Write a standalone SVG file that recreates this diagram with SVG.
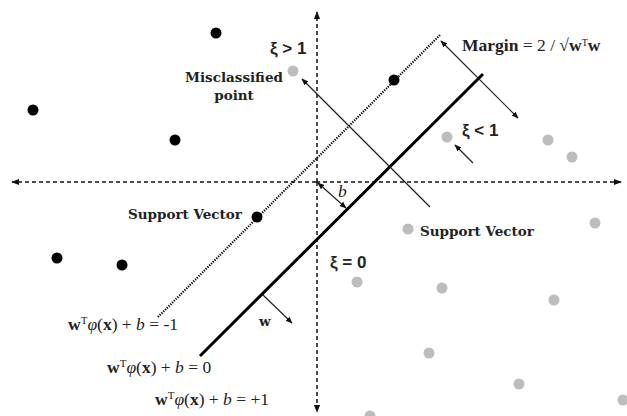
<svg xmlns="http://www.w3.org/2000/svg" width="627" height="416" viewBox="0 0 627 416">
<defs>
<marker id="ah" viewBox="0 0 10 10" refX="9" refY="5" markerWidth="7" markerHeight="7" orient="auto-start-reverse" markerUnits="userSpaceOnUse">
<path d="M0,1 L10,5 L0,9 z" fill="#111"/>
</marker>
<marker id="axh" viewBox="0 0 10 10" refX="9" refY="5" markerWidth="8" markerHeight="8" orient="auto" markerUnits="userSpaceOnUse">
<path d="M0,1 L10,5 L0,9 z" fill="#111"/>
</marker>
</defs>
<style>
.axis{stroke:#111;stroke-width:1.5;stroke-dasharray:4 3;fill:none}
.thin{stroke:#222;stroke-width:1.2;fill:none}
.blk{fill:#000}
.gry{fill:#bdbdbd}
.lbl{font-family:"DejaVu Serif","Liberation Serif",serif;font-weight:bold;font-size:13.5px;fill:#222}
.eq{font-family:"Liberation Serif","DejaVu Serif",serif;font-size:17.5px;fill:#222}
.xi{font-family:"Liberation Sans","DejaVu Sans",sans-serif;font-weight:bold;font-size:17px;fill:#222}
</style>
<rect width="627" height="416" fill="#fff"/>
<g id="connectors">
<line class="axis" x1="316" y1="182" x2="12" y2="182" marker-end="url(#axh)"/>
<line class="axis" x1="316" y1="182" x2="621" y2="182" marker-end="url(#axh)"/>
<line class="axis" x1="317" y1="182" x2="317" y2="12" marker-end="url(#axh)"/>
<line class="axis" x1="317" y1="182" x2="317" y2="412" marker-end="url(#axh)"/>
<line id="hyperplane" x1="200" y1="356" x2="483" y2="74" stroke="#000" stroke-width="3"/>
<line id="margin-minus" x1="158" y1="317" x2="440" y2="35" stroke="#111" stroke-width="2.2" stroke-dasharray="1.3 1.2"/>
<line class="thin" x1="441" y1="41" x2="518" y2="118" marker-start="url(#ah)" marker-end="url(#ah)"/>
<line class="thin" x1="430" y1="207" x2="302" y2="79" marker-end="url(#ah)"/>
<line class="thin" x1="473" y1="163" x2="455" y2="145" marker-end="url(#ah)"/>
<line class="thin" x1="318" y1="183" x2="346" y2="208" marker-start="url(#ah)" marker-end="url(#ah)"/>
<line class="thin" x1="263" y1="295" x2="292" y2="323" marker-end="url(#ah)"/>
</g>
<g id="black-points">
<circle class="blk" cx="216" cy="33" r="5.5"/>
<circle class="blk" cx="33" cy="110" r="5.5"/>
<circle class="blk" cx="175" cy="140" r="5.5"/>
<circle class="blk" cx="394" cy="80" r="5.5"/>
<circle class="blk" cx="257" cy="217" r="5.5"/>
<circle class="blk" cx="57" cy="258" r="5.5"/>
<circle class="blk" cx="122" cy="265" r="5.5"/>
</g>
<g id="gray-points">
<circle class="gry" cx="293" cy="71" r="5.5"/>
<circle class="gry" cx="447" cy="137" r="5.5"/>
<circle class="gry" cx="548" cy="140" r="5.5"/>
<circle class="gry" cx="572" cy="157" r="5.5"/>
<circle class="gry" cx="595" cy="223" r="5.5"/>
<circle class="gry" cx="408" cy="229" r="5.5"/>
<circle class="gry" cx="357" cy="282" r="5.5"/>
<circle class="gry" cx="442" cy="288" r="5.5"/>
<circle class="gry" cx="554" cy="300" r="5.5"/>
<circle class="gry" cx="429" cy="353" r="5.5"/>
<circle class="gry" cx="519" cy="384" r="5.5"/>
<circle class="gry" cx="623" cy="400" r="5.5"/>
<circle class="gry" cx="370" cy="416" r="5.5"/>
</g>
<g id="label-xi-gt1"><text class="xi" x="270" y="54">ξ &gt; 1</text></g>
<g id="label-misclassified">
<text class="lbl" x="234" y="82" text-anchor="middle">Misclassified</text>
<text class="lbl" x="234" y="100" text-anchor="middle">point</text>
</g>
<g id="label-margin"><text class="eq" x="462" y="51" font-size="16.5"><tspan font-weight="bold">Margin</tspan> = 2 / √<tspan font-weight="bold">w</tspan><tspan font-size="10" dy="-5">T</tspan><tspan font-weight="bold" dy="5">w</tspan></text></g>
<g id="label-xi-lt1"><text class="xi" x="462" y="136">ξ &lt; 1</text></g>
<g id="label-sv-left"><text class="lbl" x="128" y="219">Support Vector</text></g>
<g id="label-sv-right"><text class="lbl" x="420" y="236">Support Vector</text></g>
<g id="label-xi-0"><text class="xi" x="330" y="268">ξ = 0</text></g>
<g id="label-b"><text class="eq" x="338" y="197" font-size="15" font-style="italic">b</text></g>
<g id="label-w"><text class="lbl" x="259" y="326">w</text></g>
<g id="eq-minus1"><text class="eq" x="68" y="330"><tspan font-weight="bold">w</tspan><tspan font-size="11" dy="-6">T</tspan><tspan font-style="italic" dy="6">φ</tspan>(<tspan font-weight="bold">x</tspan>) + <tspan font-style="italic">b</tspan> = -1</text></g>
<g id="eq-zero"><text class="eq" x="107" y="373"><tspan font-weight="bold">w</tspan><tspan font-size="11" dy="-6">T</tspan><tspan font-style="italic" dy="6">φ</tspan>(<tspan font-weight="bold">x</tspan>) + <tspan font-style="italic">b</tspan> = 0</text></g>
<g id="eq-plus1"><text class="eq" x="155" y="405"><tspan font-weight="bold">w</tspan><tspan font-size="11" dy="-6">T</tspan><tspan font-style="italic" dy="6">φ</tspan>(<tspan font-weight="bold">x</tspan>) + <tspan font-style="italic">b</tspan> = +1</text></g>
</svg>
